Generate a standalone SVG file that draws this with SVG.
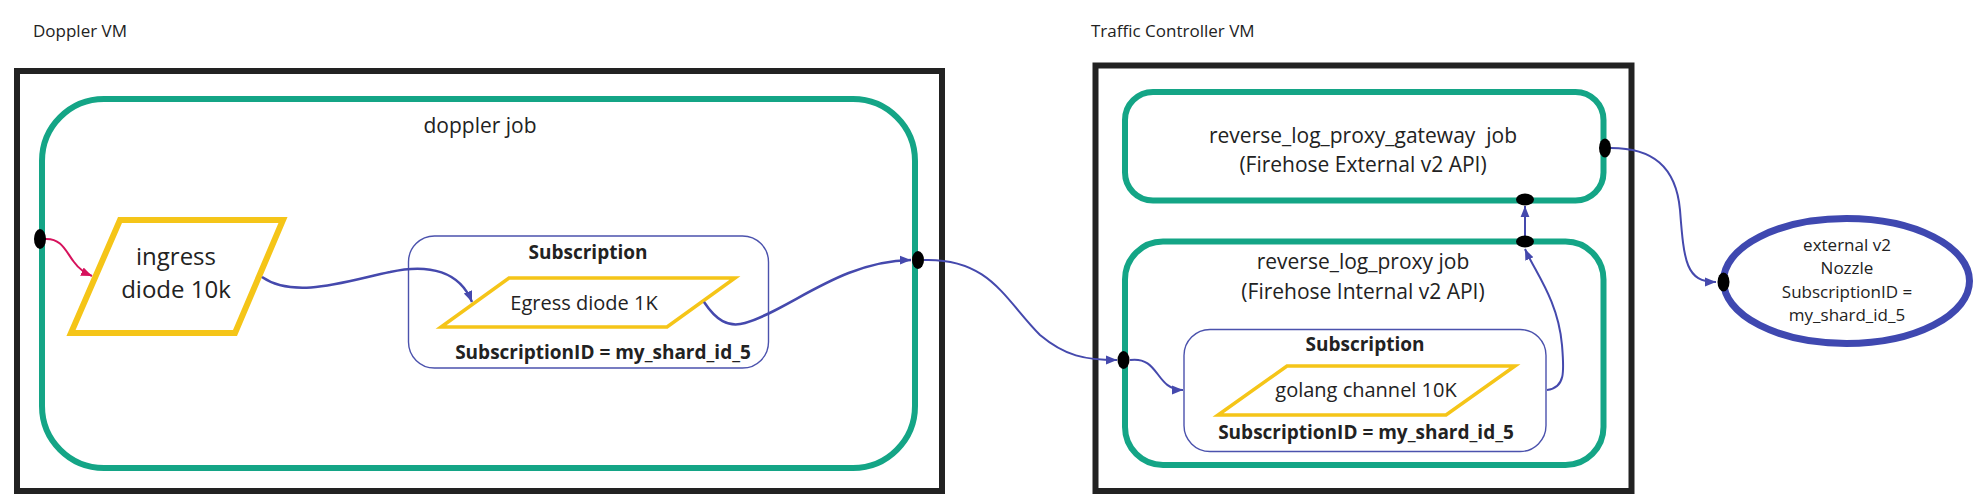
<svg xmlns="http://www.w3.org/2000/svg" width="1980" height="504" viewBox="0 0 1980 504">
<style>
text{font-family:"Open Sans","Noto Sans","Liberation Sans",sans-serif;fill:#222;}
.vm{fill:none;stroke:#222;stroke-width:6;}
.job{fill:#fff;stroke:#14a586;stroke-width:6;}
.sub{fill:#fff;stroke:#4b52ad;stroke-width:1.4;}
.q{fill:#fff;stroke:#f5c518;}
.port{fill:#000;}
.c{fill:none;stroke:#4549ad;stroke-width:2;}
.t21{font-size:21px;text-anchor:middle;white-space:pre;}
.b19{font-size:19px;font-weight:bold;text-anchor:middle;}
.t20{font-size:20px;text-anchor:middle;}
</style>
<defs>
<marker id="ab" viewBox="0 0 10 10" refX="10" refY="5" markerWidth="11" markerHeight="11" markerUnits="userSpaceOnUse" orient="auto"><path d="M0,1 L10,5 L0,9 z" fill="#4549ad"/></marker>
<marker id="ap" viewBox="0 0 10 10" refX="10" refY="5" markerWidth="11" markerHeight="11" markerUnits="userSpaceOnUse" orient="auto"><path d="M0,1 L10,5 L0,9 z" fill="#d6125c"/></marker>
</defs>
<rect width="1980" height="504" fill="#fff"/>

<g id="doppler-vm">
<text x="33" y="37" style="font-size:17px">Doppler VM</text>
<rect class="vm" x="17" y="71" width="925" height="420"/>
</g>
<g id="doppler-job">
<rect class="job" x="42" y="99" width="873" height="369" rx="62"/>
<text class="t21" x="480" y="133">doppler job</text>
</g>
<g id="ingress-diode">
<polygon class="q" style="stroke-width:6" points="120,220 283,220 235,333 71,333"/>
<text class="t20" style="font-size:24px" x="176" y="265">ingress</text>
<text class="t20" style="font-size:24px" x="176" y="298">diode 10k</text>
</g>
<g id="doppler-subscription">
<rect class="sub" x="408.5" y="236" width="360" height="132" rx="26"/>
<text class="b19" x="588" y="259">Subscription</text>
<polygon class="q" style="stroke-width:3.5" points="509,278 735,278 667,327 441,327"/>
<text class="t20" x="584" y="310">Egress diode 1K</text>
<text class="b19" x="603" y="359">SubscriptionID = my_shard_id_5</text>
</g>

<g id="tc-vm">
<text x="1091" y="37" style="font-size:17px">Traffic Controller VM</text>
<rect class="vm" x="1095.5" y="65.5" width="536" height="425.5"/>
</g>
<g id="gateway-job">
<rect class="job" x="1125" y="92" width="478.5" height="108.5" rx="28"/>
<text class="t21" x="1363" y="143">reverse_log_proxy_gateway  job</text>
<text class="t21" x="1363" y="172">(Firehose External v2 API)</text>
</g>
<g id="rlp-job">
<rect class="job" x="1125" y="241.5" width="478.5" height="223.5" rx="38"/>
<text class="t21" x="1363" y="269">reverse_log_proxy job</text>
<text class="t21" x="1363" y="299">(Firehose Internal v2 API)</text>
</g>
<g id="rlp-subscription">
<rect class="sub" x="1184" y="329.5" width="362" height="122" rx="26"/>
<text class="b19" x="1365" y="351">Subscription</text>
<polygon class="q" style="stroke-width:3.5" points="1287,366 1515,366 1446,415 1218,415"/>
<text class="t20" x="1366" y="397">golang channel 10K</text>
<text class="b19" x="1366" y="439">SubscriptionID = my_shard_id_5</text>
</g>
<g id="nozzle">
<ellipse cx="1846.5" cy="281" rx="123" ry="62.5" fill="#fff" stroke="#3f48b0" stroke-width="7"/>
<text x="1847" y="251" style="font-size:17px;text-anchor:middle">external v2</text>
<text x="1847" y="274" style="font-size:17px;text-anchor:middle">Nozzle</text>
<text x="1847" y="297.5" style="font-size:17px;text-anchor:middle">SubscriptionID =</text>
<text x="1847" y="321" style="font-size:17px;text-anchor:middle">my_shard_id_5</text>
</g>

<g id="connectors">
<path d="M45,239 C62,238 66,252 74,262 C79,269 85,273 92,276" fill="none" stroke="#d6125c" stroke-width="2" marker-end="url(#ap)"/>
<path class="c" style="stroke-width:2.5" d="M262,277 C295,300 350,280 390,272 C430,263 460,272 472,302" marker-end="url(#ab)"/>
<path class="c" style="stroke-width:2.5" d="M704,302 C716,320 728,328 745,323 C790,310 840,261 911,260" marker-end="url(#ab)"/>
<path class="c" d="M924,260 C990,258 1005,300 1040,335 C1065,356 1085,360 1117,360" marker-end="url(#ab)"/>
<path class="c" d="M1130,360 C1160,356 1155,390 1183,390" marker-end="url(#ab)"/>
<path class="c" d="M1547,390 C1566,388 1564,370 1562,345 C1558,300 1535,272 1525,249" marker-end="url(#ab)"/>
<path class="c" d="M1525,236 L1525,206" marker-end="url(#ab)"/>
<path class="c" d="M1611,148 C1652,148 1676,166 1680,210 C1684,262 1686,282 1716,282" marker-end="url(#ab)"/>
<ellipse class="port" cx="40" cy="239" rx="6" ry="10"/>
<ellipse class="port" cx="918" cy="260" rx="6" ry="9"/>
<ellipse class="port" cx="1123.5" cy="360" rx="6" ry="9"/>
<ellipse class="port" cx="1525" cy="241.5" rx="9" ry="6"/>
<ellipse class="port" cx="1525" cy="199.5" rx="9" ry="6"/>
<ellipse class="port" cx="1605" cy="148" rx="6" ry="9.5"/>
<ellipse class="port" cx="1723.5" cy="282" rx="6" ry="9.5"/>
</g>
</svg>
